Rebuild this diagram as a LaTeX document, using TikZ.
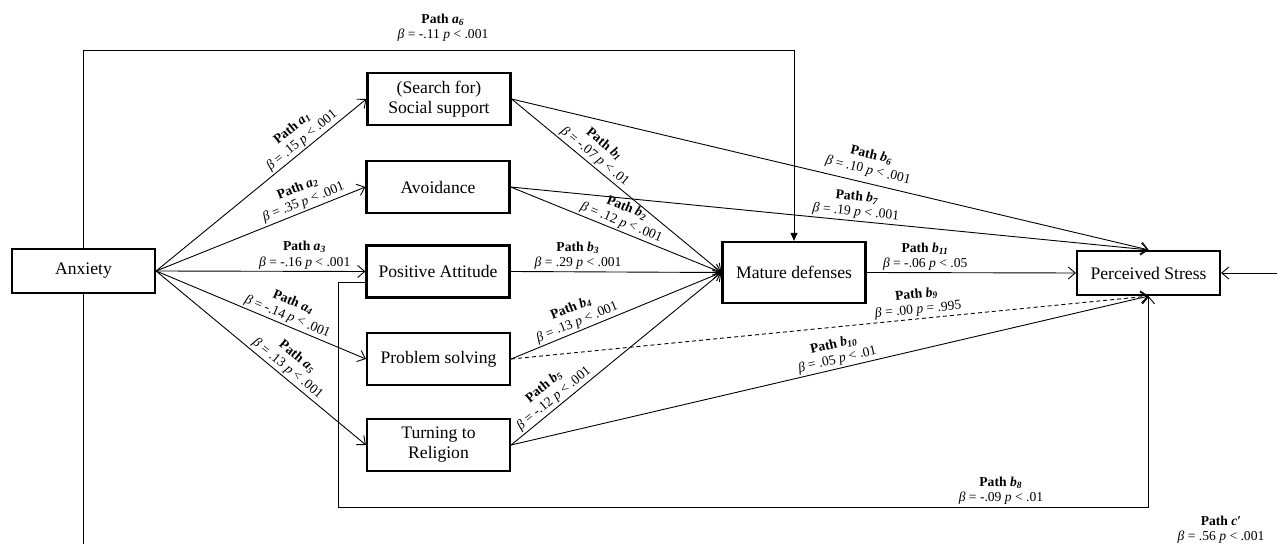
\documentclass[tikz,border=0pt]{standalone}
\usepackage{fontspec}
\setmainfont{Liberation Serif}
\usetikzlibrary{arrows.meta,positioning,calc}

\newcommand{\pathlab}[4]{\textbf{Path \textit{#1}\textsubscript{\textit{#2}}}\\\textit{β} = #3 \textit{p} #4}

\begin{document}
\begin{tikzpicture}[
  x=0.5pt, y=-0.5pt,
  varbox/.style={rectangle, draw, line width=1.1pt, minimum width=71.5pt, minimum height=26pt, align=center, inner sep=1pt, font=\fontsize{8.8}{10}\selectfont},
  lbl/.style={font=\fontsize{6.8}{7.6}\selectfont, align=center, inner sep=1pt},
  conn/.style={line width=0.45pt, -{Straight Barb[length=3.5pt,width=6pt]}},
  dashconn/.style={conn, dash pattern=on 2pt off 1.5pt},
]
\useasboundingbox (0,0) rectangle (1277,544);
\clip (0,0) rectangle (1277,544);

% Nodes
\node[varbox, minimum height=22pt] (anxiety) at (83.5,271) {Anxiety};
\node[varbox] (social) at (439,99) {(Search for)\\Social support};
\node[varbox] (avoid) at (438,187) {Avoidance};
\node[varbox] (posatt) at (438,271.5) {Positive Attitude};
\node[varbox] (probsolv) at (438.5,359) {Problem solving};
\node[varbox] (religion) at (438.5,445) {Turning to\\Religion};
\node[varbox, minimum height=30.5pt] (mature) at (794,272.5) {Mature defenses};
\node[varbox, minimum height=22pt] (stress) at (1148.5,273) {Perceived Stress};

% Helper points
\coordinate (topline) at (0,50);
\coordinate (b8start) at ($(posatt.west)+(0,11)$);
\coordinate (b8corner) at (338,507);
\coordinate (cbottom) at (0,560);
\coordinate (cright) at (1295,0);

% Paths a
\draw[conn] (anxiety.east) -- node[lbl, sloped, above, pos=0.72] {\pathlab{a}{1}{.15}{< .001}} (social.west);
\draw[conn] (anxiety.east) -- node[lbl, sloped, above, pos=0.72] {\pathlab{a}{2}{.35}{< .001}} (avoid.west);
\draw[conn] (anxiety.east) -- node[lbl, above, pos=0.71] {\pathlab{a}{3}{-.16}{< .001}} (posatt.west);
\draw[conn] (anxiety.east) -- node[lbl, sloped, above, pos=0.61] {\pathlab{a}{4}{-.14}{< .001}} (probsolv.west);
\draw[conn] (anxiety.east) -- node[lbl, sloped, above, pos=0.6] {\pathlab{a}{5}{.13}{< .001}} (religion.west);
\draw[line width=0.45pt, -{Triangle[length=4pt,width=3.5pt]}] (anxiety.north) |- node[lbl, above=3pt, pos=0.753] {\pathlab{a}{6}{-.11}{< .001}} (topline -| mature.north) -- (mature.north);

% Paths b to mature defenses
\draw[conn] (social.east) -- node[lbl, sloped, above, pos=0.37] {\pathlab{b}{1}{-.07}{< .01}} (mature.west);
\draw[conn] (avoid.east) -- node[lbl, sloped, above, pos=0.51] {\pathlab{b}{2}{.12}{< .001}} (mature.west);
\draw[conn] (posatt.east) -- node[lbl, above, pos=0.32] {\pathlab{b}{3}{.29}{< .001}} (mature.west);
\draw[conn] (probsolv.east) -- node[lbl, sloped, above, pos=0.33] {\pathlab{b}{4}{.13}{< .001}} (mature.west);
\draw[conn] (religion.east) -- node[lbl, sloped, above, pos=0.23] {\pathlab{b}{5}{-.12}{< .001}} (mature.west);

% Paths b to perceived stress
\draw[conn] (social.east) -- node[lbl, sloped, above=2pt, pos=0.555] {\pathlab{b}{6}{.10}{< .001}} (stress.north);
\draw[conn] (avoid.east) -- node[lbl, sloped, above, pos=0.54] {\pathlab{b}{7}{.19}{< .001}} (stress.north);
\draw[conn] (b8start) -- (posatt.west |- b8start) (b8start) -| (b8corner) -| node[lbl, above, pos=0.409] {\pathlab{b}{8}{-.09}{< .01}} (stress.south);
\draw[dashconn] (probsolv.east) -- node[lbl, sloped, above, pos=0.64] {\pathlab{b}{9}{.00}{= .995}} (stress.south);
\draw[conn] (religion.east) -- node[lbl, sloped, above, pos=0.515] {\pathlab{b}{10}{.05}{< .01}} (stress.south);
\draw[conn] (mature.east) -- node[lbl, above, pos=0.28] {\pathlab{b}{11}{-.06}{< .05}} (stress.west);

% Path c'
\draw[conn] (anxiety.south) |- (cbottom -| cright) |- (stress.east);
\node[lbl] (lblc) at (1221,530) {\textbf{Path \textit{c}′}\\\textit{β} = .56 \textit{p} < .001};

\end{tikzpicture}
\end{document}
